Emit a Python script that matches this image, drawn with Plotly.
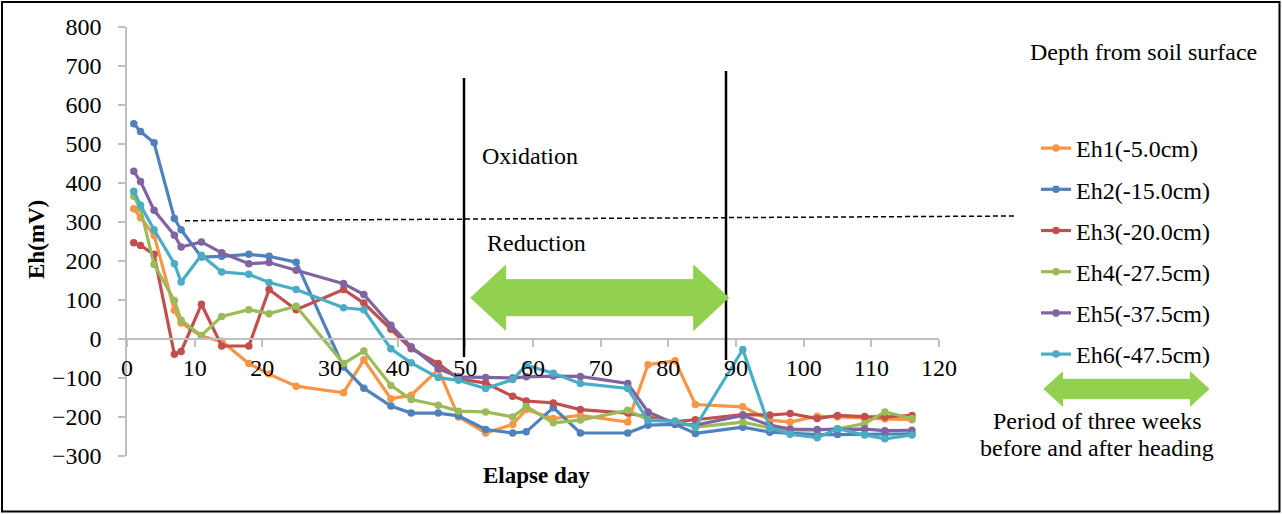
import plotly.graph_objects as go

# ---------------- data ----------------
days = [1, 2, 4, 7, 8, 11, 14, 18, 21, 25, 32, 35, 39, 42, 46, 49, 53, 57, 59, 63, 67,
        74, 77, 81, 84, 91, 95, 98, 102, 105, 109, 112, 116]

eh1 = [334, 311, 266, 74, 41, 7, -6, -63, -90, -121, -138, -53, -153, -144, -78, -200, -241,
       -219, -181, -204, -196, -213, -66, -56, -168, -174, -208, -213, -198, -200, -204, -205, -207]
eh2 = [552, 532, 503, 309, 280, 210, 212, 217, 212, 197, -72, -126, -172, -190, -190, -197, -232,
       -241, -238, -176, -241, -241, -221, -219, -242, -226, -239, -242, -245, -245, -245, -243, -243]
eh3 = [247, 240, 217, -39, -32, 89, -18, -18, 127, 75, 127, 92, 25, -25, -63, -102, -113,
       -147, -159, -164, -181, -190, -200, -212, -207, -194, -195, -191, -204, -196, -199, -200, -196]
eh4 = [366, 334, 191, 99, 48, 9, 58, 75, 65, 84, -63, -31, -119, -155, -170, -185, -187,
       -200, -173, -215, -208, -183, -207, -210, -226, -213, -228, -234, -234, -230, -217, -187, -204]
eh5 = [430, 404, 330, 266, 236, 249, 221, 193, 196, 176, 142, 114, 35, -20, -76, -97, -99,
       -100, -97, -95, -96, -114, -187, -217, -221, -196, -221, -231, -232, -232, -231, -235, -234]
eh6 = [379, 343, 280, 193, 146, 215, 172, 166, 145, 127, 80, 75, -25, -61, -99, -106, -127,
       -104, -67, -88, -114, -127, -209, -211, -225, -27, -228, -244, -253, -230, -246, -256, -246]

series_names = ["Eh1(-5.0cm)", "Eh2(-15.0cm)", "Eh3(-20.0cm)", "Eh4(-27.5cm)",
                "Eh5(-37.5cm)", "Eh6(-47.5cm)"]
series_values = [eh1, eh2, eh3, eh4, eh5, eh6]
series_colors = ["#F79646", "#4F81BD", "#C0504D", "#9BBB59", "#8064A2", "#4BACC6"]

x_ticks = list(range(0, 121, 10))
y_ticks = list(range(-300, 801, 100))

# ---------------- layout geometry ----------------
W, H = 1282, 514
L, T, PW, PH = 127, 27, 812, 429
FONT = "Liberation Serif, Times New Roman, serif"
AXIS_GREY = "#BFBFBF"
ARROW_GREEN = "#92D050"


def px(xp):
    return (xp - L) / PW


def py(yp):
    return (T + PH - yp) / PH


fig = go.Figure()
for name, vals, col in zip(series_names, series_values, series_colors):
    fig.add_trace(go.Scatter(
        x=days, y=vals, name=name, mode="lines+markers",
        line=dict(color=col, width=3.2),
        marker=dict(color=col, size=7.5),
        legendgroup=name,
        cliponaxis=False,
    ))


def arrow_path(x0, x1, yc, head_len, head_half, body_half):
    pts = [
        (x0, yc),
        (x0 + head_len, yc - head_half),
        (x0 + head_len, yc - body_half),
        (x1 - head_len, yc - body_half),
        (x1 - head_len, yc - head_half),
        (x1, yc),
        (x1 - head_len, yc + head_half),
        (x1 - head_len, yc + body_half),
        (x0 + head_len, yc + body_half),
        (x0 + head_len, yc + head_half),
    ]
    return "M " + " L ".join(f"{px(a):.5f},{py(b):.5f}" for a, b in pts) + " Z"


shapes = [
    # outer border
    dict(type="rect", xref="paper", yref="paper", x0=px(2), x1=px(1279.5), y0=py(2), y1=py(511.5),
         line=dict(color="black", width=2), layer="below"),
    # oxidation / reduction boundary
    dict(type="line", xref="paper", yref="paper", x0=px(185), x1=px(1015), y0=py(220.7), y1=py(216),
         line=dict(color="black", width=1.5, dash="5px,3px")),
    # vertical lines
    dict(type="line", xref="paper", yref="paper", x0=px(464), x1=px(464), y0=py(78), y1=py(357),
         line=dict(color="black", width=2.5)),
    dict(type="line", xref="paper", yref="paper", x0=px(726), x1=px(726), y0=py(71), y1=py(360),
         line=dict(color="black", width=2.5)),
    # big double arrow
    dict(type="path", xref="paper", yref="paper",
         path=arrow_path(470.7, 728.7, 297.7, 35, 32.5, 18),
         fillcolor=ARROW_GREEN, line=dict(color=ARROW_GREEN, width=1)),
    # legend arrow
    dict(type="path", xref="paper", yref="paper",
         path=arrow_path(1044, 1209, 389, 18.5, 17, 9.7),
         fillcolor=ARROW_GREEN, line=dict(color=ARROW_GREEN, width=1)),
]

tf = dict(family=FONT, size=24, color="black")
tfb = dict(family=FONT, size=23, color="black", weight="bold")
annotations = [
    dict(text="Depth from soil surface", x=px(1143), y=py(51.7), xanchor="center", yanchor="middle", font=tf),
    dict(text="Oxidation", x=px(480), y=py(156), xanchor="left", yanchor="middle", font=tf),
    dict(text="Reduction", x=px(485), y=py(242.7), xanchor="left", yanchor="middle", font=tf),
    dict(text="Period of three weeks", x=px(1097), y=py(421), xanchor="center", yanchor="middle", font=tf),
    dict(text="before and after heading", x=px(1097), y=py(448.3), xanchor="center", yanchor="middle", font=tf),
    dict(text="<b>Elapse day</b>", x=px(536), y=py(475), xanchor="center", yanchor="middle", font=tfb),
    dict(text="<b>Eh(mV)</b>", x=px(37), y=py(240), xanchor="center", yanchor="middle",
         textangle=-90, font=tfb),
]
for a in annotations:
    a.update(xref="paper", yref="paper", showarrow=False)

fig.update_layout(
    width=W, height=H,
    margin=dict(l=L, r=W - L - PW, t=T, b=H - T - PH, pad=0),
    paper_bgcolor="white", plot_bgcolor="white",
    font=dict(family=FONT, size=24, color="black"),
    showlegend=True,
    legend=dict(x=px(1036), y=py(126), xanchor="left", yanchor="top",
                font=dict(family=FONT, size=24, color="black"),
                tracegroupgap=7, bgcolor="rgba(0,0,0,0)", borderwidth=0),
    xaxis=dict(range=[0, 120], tickvals=x_ticks, showgrid=False, zeroline=False,
               anchor="free", position=300 / 1100,
               showline=True, linecolor=AXIS_GREY, linewidth=2,
               ticks="outside", ticklen=7, tickcolor=AXIS_GREY, tickwidth=1.5,
               ticklabelstandoff=0,
               tickfont=dict(family=FONT, size=24, color="black")),
    yaxis=dict(range=[-300, 800], tickvals=y_ticks, showgrid=False, zeroline=False,
               showline=True, linecolor=AXIS_GREY, linewidth=1.5,
               ticks="outside", ticklen=7, tickcolor=AXIS_GREY, tickwidth=1.5,
               ticklabelstandoff=12,
               tickfont=dict(family=FONT, size=24, color="black")),
    shapes=shapes,
    annotations=annotations,
)

fig.write_html("out.html")
